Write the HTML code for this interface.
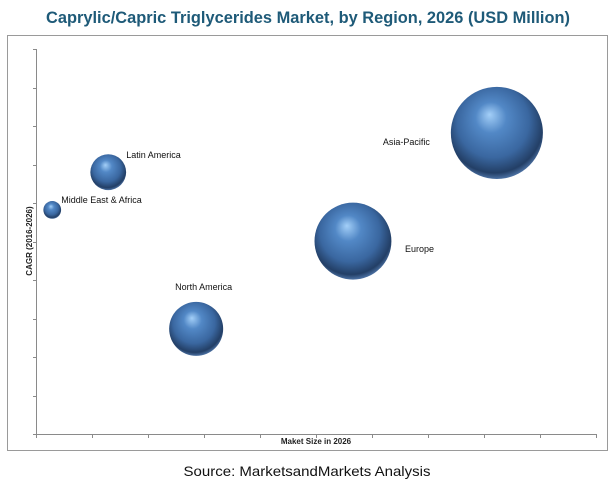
<!DOCTYPE html>
<html><head><meta charset="utf-8"><style>
html,body{margin:0;padding:0;background:#fff;width:616px;height:492px;overflow:hidden}
svg{display:block}
</style></head><body>
<svg width="616" height="492" viewBox="0 0 616 492" font-family="Liberation Sans, sans-serif">
<defs>
<radialGradient id="bub" cx="0.48" cy="0.42" r="0.6" fx="0.42" fy="0.3">
<stop offset="0" stop-color="#a3cff8"/>
<stop offset="0.28" stop-color="#5288c6"/>
<stop offset="0.65" stop-color="#3a67a0"/>
<stop offset="0.88" stop-color="#233f66"/>
<stop offset="1" stop-color="#5880b5"/>
</radialGradient>
</defs>
<text x="308" y="23" text-anchor="middle" font-size="17" font-weight="bold" fill="#1e5a78" textLength="524" lengthAdjust="spacingAndGlyphs">Caprylic/Capric Triglycerides Market, by Region, 2026 (USD Million)</text>
<rect x="7.5" y="35.5" width="600" height="415" fill="none" stroke="#9a9a9a"/>
<g id="axes"></g>
<g id="bubbles"></g>
<text x="316" y="444" text-anchor="middle" font-size="8" font-weight="bold" fill="#222">Maket Size in 2026</text>
<text transform="translate(32,241) rotate(-90)" text-anchor="middle" font-size="8" font-weight="bold" fill="#222">CAGR (2016-2026)</text>
<text x="307" y="476" text-anchor="middle" font-size="14" fill="#111" textLength="247" lengthAdjust="spacingAndGlyphs">Source: MarketsandMarkets Analysis</text>
</svg>
<script>
const regions=["Middle East & Africa","Latin America","North America","Europe","Asia-Pacific"];
const marketSize=[0.29,1.29,2.86,5.66,8.23];
const cagr=[5.82,6.8,2.73,5.01,7.82];
const bubbleSize=[16,65,148,300,430];
const labelDx=[9,18,-21,52,-114];
const labelDy=[-10,-17,-42,8,9];
const NS="http://www.w3.org/2000/svg";
const x0=36,x1=596,y0=434,y1=49;
const xs=v=>x0+(x1-x0)*v/10;
const ys=v=>y0-(y0-y1)*v/10;
const rs=s=>2.22*Math.sqrt(s);
const ax=document.getElementById('axes');
function mk(t,a,p){const e=document.createElementNS(NS,t);for(const k in a)e.setAttribute(k,a[k]);p.appendChild(e);return e;}
const yl=mk('line',{x1:x0+.5,y1:y1,x2:x0+.5,y2:y0,stroke:'#8a8a8a'},ax);


const xl=mk('line',{x1:x0,y1:y0+.5,x2:x1,y2:y0+.5,stroke:'#8a8a8a'},ax);


for(let i=0;i<=10;i++){
 const t=mk('line',{x1:x0-3,y1:Math.round(ys(i))+.5,x2:x0,y2:Math.round(ys(i))+.5,stroke:'#8a8a8a'},ax);
 
 
 const u=mk('line',{x1:Math.round(xs(i))+.5,y1:y0,x2:Math.round(xs(i))+.5,y2:y0+4,stroke:'#8a8a8a'},ax);
 
 
}
const bg=document.getElementById('bubbles');
regions.forEach((r,i)=>{
 const cx=xs(marketSize[i]),cy=ys(cagr[i]),rad=rs(bubbleSize[i]);
 const c=mk('circle',{cx:cx,cy:cy,r:rad,fill:'url(#bub)'},bg);
 
 
 const t=mk('text',{x:cx+labelDx[i],y:cy+labelDy[i]+3,'font-size':9,fill:'#111'},bg);
 t.textContent=r;
 
 
});
</script>
</body></html>
